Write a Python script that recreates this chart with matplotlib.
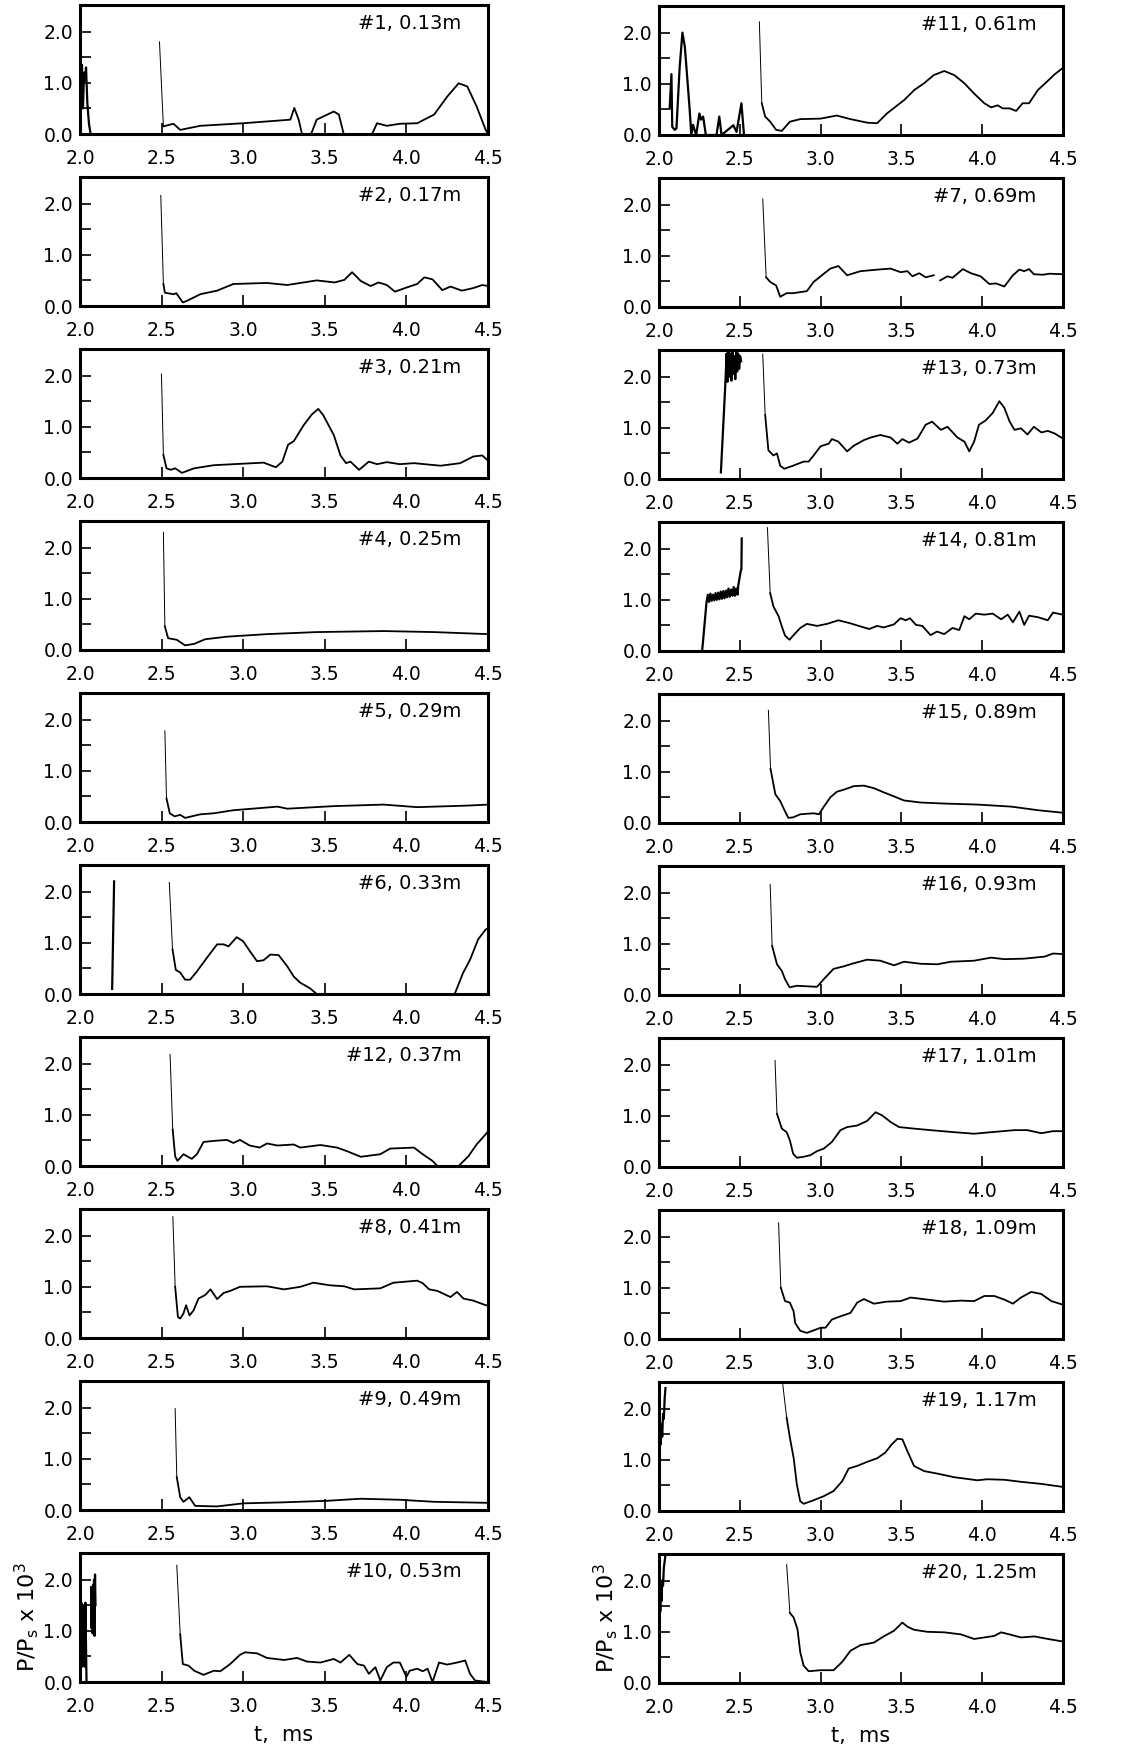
import matplotlib
matplotlib.use("Agg")
import matplotlib.pyplot as plt
import numpy as np

# ---- data (t in ms, P/Ps x 10^3) ----
labels_left = ["#1, 0.13m", "#2, 0.17m", "#3, 0.21m", "#4, 0.25m", "#5, 0.29m",
               "#6, 0.33m", "#12, 0.37m", "#8, 0.41m", "#9, 0.49m", "#10, 0.53m"]
labels_right = ["#11, 0.61m", "#7, 0.69m", "#13, 0.73m", "#14, 0.81m", "#15, 0.89m",
                "#16, 0.93m", "#17, 1.01m", "#18, 1.09m", "#19, 1.17m", "#20, 1.25m"]

# left column
t1 = [2.487, 2.511, 2.573, 2.614, 2.737, 3.0, 3.289, 3.313, 3.34, 3.36, 3.416, 3.45, 3.555, 3.586,
      3.616, 3.79, 3.82, 3.88, 3.96, 4.066, 4.17, 4.25, 4.32, 4.373, 4.43, 4.486, 4.5]
p1 = [1.80, 0.15, 0.20, 0.08, 0.16, 0.21, 0.28, 0.51, 0.28, 0.0, 0.0, 0.28, 0.44, 0.38,
      0.0, 0.0, 0.21, 0.16, 0.20, 0.21, 0.38, 0.73, 0.99, 0.93, 0.54, 0.08, 0.0]
pre1_t = [2.0, 2.005, 2.012, 2.018, 2.025, 2.03, 2.037, 2.045, 2.055, 2.065]
pre1_p = [0.0, 0.5, 1.35, 0.5, 1.2, 1.05, 1.3, 0.6, 0.2, 0.0]

t2 = [2.495, 2.511, 2.52, 2.573, 2.59, 2.63, 2.655, 2.737, 2.84, 2.94, 3.146, 3.27, 3.45, 3.56, 3.62,
      3.667, 3.72, 3.78, 3.83, 3.88, 3.93, 4.0, 4.066, 4.11, 4.16, 4.22, 4.27, 4.34, 4.41, 4.465, 4.5]
p2 = [2.16, 0.43, 0.26, 0.23, 0.25, 0.07, 0.10, 0.23, 0.30, 0.43, 0.45, 0.41, 0.50, 0.46, 0.51,
      0.66, 0.49, 0.39, 0.46, 0.41, 0.28, 0.36, 0.43, 0.56, 0.52, 0.31, 0.38, 0.30, 0.35, 0.41, 0.39]

t3 = [2.499, 2.511, 2.53, 2.556, 2.583, 2.624, 2.70, 2.82, 2.94, 3.125, 3.2, 3.24, 3.275, 3.31, 3.37,
      3.42, 3.46, 3.49, 3.555, 3.596, 3.63, 3.657, 3.71, 3.77, 3.82, 3.88, 3.96, 4.046, 4.21, 4.33,
      4.41, 4.465, 4.496]
p3 = [2.03, 0.45, 0.19, 0.16, 0.19, 0.10, 0.19, 0.25, 0.27, 0.30, 0.21, 0.32, 0.65, 0.72, 1.03,
      1.24, 1.35, 1.23, 0.84, 0.44, 0.29, 0.32, 0.16, 0.32, 0.27, 0.31, 0.27, 0.29, 0.24, 0.29,
      0.42, 0.44, 0.35]

t4 = [2.511, 2.52, 2.54, 2.593, 2.644, 2.70, 2.767, 2.90, 3.146, 3.45, 3.86, 4.17, 4.5]
p4 = [2.30, 0.46, 0.23, 0.20, 0.09, 0.12, 0.21, 0.26, 0.31, 0.35, 0.37, 0.35, 0.31]

t5 = [2.52, 2.53, 2.55, 2.58, 2.614, 2.644, 2.737, 2.82, 2.94, 3.21, 3.27, 3.555, 3.86, 4.066, 4.37, 4.5]
p5 = [1.78, 0.46, 0.17, 0.11, 0.14, 0.08, 0.15, 0.17, 0.23, 0.30, 0.26, 0.31, 0.34, 0.29, 0.32, 0.34]

t6 = [2.547, 2.567, 2.587, 2.614, 2.644, 2.675, 2.716, 2.776, 2.84, 2.88, 2.91, 2.96, 3.0, 3.04, 3.085,
      3.125, 3.166, 3.217, 3.27, 3.31, 3.35, 3.41, 3.45, 4.296, 4.347, 4.39, 4.44, 4.486, 4.5]
p6 = [2.18, 0.87, 0.47, 0.42, 0.28, 0.28, 0.44, 0.70, 0.97, 0.97, 0.93, 1.11, 1.03, 0.84, 0.64,
      0.66, 0.77, 0.76, 0.54, 0.34, 0.22, 0.11, 0.0, 0.0, 0.41, 0.67, 1.07, 1.26, 1.28]
pre6_t = [2.197, 2.209]
pre6_p = [0.1, 2.2]

t12 = [2.552, 2.568, 2.583, 2.597, 2.634, 2.685, 2.716, 2.757, 2.82, 2.90, 2.94, 2.98, 3.04, 3.10,
       3.146, 3.21, 3.31, 3.35, 3.473, 3.575, 3.636, 3.72, 3.84, 3.90, 4.046, 4.1, 4.16, 4.19, 4.32,
       4.38, 4.43, 4.486, 4.5]
p12 = [2.18, 0.71, 0.19, 0.10, 0.23, 0.14, 0.23, 0.47, 0.49, 0.51, 0.45, 0.51, 0.40, 0.36,
       0.44, 0.40, 0.42, 0.36, 0.41, 0.36, 0.29, 0.18, 0.23, 0.34, 0.36, 0.23, 0.10, 0.0, 0.0,
       0.19, 0.42, 0.62, 0.68]

t8 = [2.569, 2.583, 2.60, 2.614, 2.634, 2.65, 2.671, 2.696, 2.726, 2.767, 2.80, 2.84, 2.88, 2.92, 2.98,
      3.146, 3.25, 3.35, 3.43, 3.53, 3.62, 3.68, 3.84, 3.92, 4.066, 4.10, 4.14, 4.19, 4.27, 4.31,
      4.35, 4.41, 4.486, 4.5]
p8 = [2.37, 1.0, 0.41, 0.38, 0.48, 0.64, 0.44, 0.54, 0.77, 0.84, 0.95, 0.76, 0.88, 0.92, 1.0,
      1.01, 0.95, 1.0, 1.08, 1.03, 1.01, 0.95, 0.97, 1.08, 1.12, 1.07, 0.95, 0.92, 0.80, 0.90,
      0.77, 0.73, 0.64, 0.64]

t9 = [2.583, 2.593, 2.614, 2.634, 2.67, 2.706, 2.84, 3.0, 3.25, 3.515, 3.72, 3.96, 4.17, 4.5]
p9 = [1.98, 0.64, 0.25, 0.16, 0.25, 0.08, 0.07, 0.13, 0.15, 0.18, 0.22, 0.20, 0.16, 0.14]

t10 = [2.593, 2.614, 2.63, 2.665, 2.70, 2.757, 2.82, 2.86, 2.92, 2.98, 3.01, 3.085, 3.146, 3.25, 3.33,
       3.39, 3.473, 3.555, 3.596, 3.65, 3.70, 3.74, 3.77, 3.81, 3.84, 3.88, 3.92, 3.96, 4.0, 4.02,
       4.066, 4.10, 4.13, 4.16, 4.2, 4.25, 4.31, 4.36, 4.39, 4.42, 4.496]
p10 = [2.28, 0.93, 0.35, 0.32, 0.22, 0.14, 0.22, 0.21, 0.35, 0.53, 0.58, 0.56, 0.47, 0.43, 0.47,
       0.40, 0.38, 0.45, 0.38, 0.53, 0.35, 0.32, 0.16, 0.29, 0.03, 0.29, 0.38, 0.38, 0.10, 0.22,
       0.26, 0.21, 0.26, 0.0, 0.38, 0.34, 0.38, 0.42, 0.16, 0.03, 0.0]
pre10a_t = [2.003, 2.008, 2.012, 2.016, 2.02, 2.024, 2.028, 2.033, 2.04]
pre10a_p = [0.0, 1.55, 0.3, 1.5, 0.5, 1.0, 0.3, 1.55, 0.0]
pre10b_t = [2.068, 2.071, 2.074, 2.077, 2.080, 2.083, 2.086, 2.089, 2.092, 2.095]
pre10b_p = [1.85, 1.05, 1.8, 0.95, 1.9, 1.1, 2.0, 0.9, 2.1, 1.5]

# right column
t11 = [2.621, 2.636, 2.657, 2.688, 2.725, 2.76, 2.81, 2.874, 3.0, 3.10, 3.185, 3.29, 3.35, 3.41, 3.475,
       3.516, 3.58, 3.64, 3.70, 3.765, 3.827, 3.89, 3.95, 4.013, 4.055, 4.096, 4.127, 4.17, 4.21,
       4.25, 4.29, 4.345, 4.40, 4.45, 4.495]
p11 = [2.21, 0.62, 0.36, 0.26, 0.10, 0.08, 0.26, 0.31, 0.32, 0.38, 0.31, 0.24, 0.23, 0.42, 0.58,
       0.68, 0.88, 1.01, 1.17, 1.25, 1.17, 1.01, 0.81, 0.62, 0.54, 0.58, 0.52, 0.52, 0.47,
       0.62, 0.62, 0.88, 1.04, 1.19, 1.30]
pre11_t = [2.066, 2.077, 2.082, 2.097, 2.108, 2.128, 2.145, 2.16, 2.19, 2.2, 2.21, 2.23, 2.25, 2.26,
           2.273, 2.29, 2.356, 2.373, 2.387, 2.46, 2.48, 2.51, 2.526]
pre11_p = [0.52, 1.19, 0.16, 0.10, 0.13, 1.33, 2.0, 1.72, 0.49, 0.0, 0.2, 0.0, 0.42, 0.30,
           0.36, 0.0, 0.0, 0.36, 0.0, 0.19, 0.06, 0.62, 0.0]

t7a = [2.642, 2.663, 2.688, 2.725, 2.75, 2.79, 2.83, 2.915, 2.957, 3.02, 3.06, 3.11, 3.164, 3.247,
       3.35, 3.433, 3.495, 3.537, 3.568, 3.61, 3.65, 3.70]
p7a = [2.11, 0.58, 0.49, 0.42, 0.20, 0.27, 0.27, 0.31, 0.49, 0.65, 0.75, 0.80, 0.62, 0.70,
       0.73, 0.75, 0.68, 0.70, 0.60, 0.66, 0.58, 0.62]
t7b = [3.74, 3.785, 3.816, 3.88, 3.93, 3.99, 4.044, 4.086, 4.137, 4.19, 4.23, 4.26, 4.29, 4.32,
       4.375, 4.417, 4.5]
p7b = [0.52, 0.60, 0.57, 0.74, 0.66, 0.60, 0.45, 0.46, 0.40, 0.62, 0.73, 0.70, 0.74, 0.64,
       0.63, 0.65, 0.64]

t13 = [2.642, 2.657, 2.677, 2.708, 2.73, 2.75, 2.775, 2.83, 2.895, 2.926, 2.957, 3.0, 3.05, 3.07,
       3.11, 3.164, 3.205, 3.268, 3.31, 3.37, 3.433, 3.475, 3.506, 3.547, 3.6, 3.65, 3.69, 3.744,
       3.785, 3.847, 3.89, 3.92, 3.95, 3.98, 4.02, 4.065, 4.106, 4.137, 4.17, 4.2, 4.24, 4.28,
       4.32, 4.366, 4.406, 4.448, 4.5]
p13 = [2.44, 1.25, 0.56, 0.46, 0.50, 0.26, 0.20, 0.26, 0.34, 0.34, 0.46, 0.64, 0.69, 0.78,
       0.73, 0.54, 0.65, 0.76, 0.81, 0.86, 0.81, 0.69, 0.78, 0.71, 0.79, 1.06, 1.12, 0.96,
       1.02, 0.81, 0.73, 0.54, 0.73, 1.06, 1.14, 1.29, 1.52, 1.39, 1.12, 0.96, 0.99, 0.87,
       1.02, 0.91, 0.94, 0.89, 0.79]
pre13_t = [2.383, 2.412, 2.418, 2.424, 2.43, 2.436, 2.442, 2.448, 2.454, 2.46, 2.466, 2.472, 2.478,
           2.484, 2.49, 2.496, 2.502, 2.508]
pre13_p = [0.13, 1.95, 2.45, 1.9, 2.5, 2.0, 2.45, 1.92, 2.5, 2.05, 2.4, 1.95, 2.5, 2.1, 2.45,
           2.15, 2.4, 2.3]

t14 = [2.671, 2.688, 2.708, 2.74, 2.76, 2.78, 2.808, 2.83, 2.874, 2.915, 2.978, 3.04, 3.11, 3.185,
       3.247, 3.30, 3.35, 3.39, 3.454, 3.495, 3.527, 3.553, 3.59, 3.63, 3.68, 3.72, 3.765, 3.816,
       3.858, 3.89, 3.92, 3.96, 4.013, 4.065, 4.117, 4.158, 4.19, 4.23, 4.26, 4.29, 4.345, 4.406,
       4.438, 4.5]
p14 = [2.41, 1.13, 0.87, 0.68, 0.48, 0.30, 0.22, 0.30, 0.45, 0.53, 0.49, 0.53, 0.60, 0.54,
       0.48, 0.43, 0.49, 0.46, 0.52, 0.64, 0.60, 0.64, 0.51, 0.49, 0.31, 0.38, 0.33, 0.45,
       0.41, 0.68, 0.62, 0.73, 0.71, 0.73, 0.62, 0.71, 0.56, 0.77, 0.51, 0.69, 0.66, 0.60,
       0.75, 0.71]
pre14_t = [2.267, 2.294, 2.302, 2.310, 2.318, 2.326, 2.334, 2.342, 2.350, 2.358, 2.366, 2.374, 2.382,
           2.390, 2.398, 2.406, 2.414, 2.422, 2.430, 2.438, 2.446, 2.454, 2.462, 2.470, 2.478,
           2.486, 2.49, 2.505, 2.51, 2.512]
pre14_p = [0.0, 0.95, 1.10, 0.96, 1.12, 0.98, 1.10, 0.99, 1.13, 1.00, 1.14, 1.01, 1.16, 1.02,
           1.17, 1.03, 1.18, 1.05, 1.22, 1.06, 1.20, 1.08, 1.25, 1.08, 1.22, 1.10, 1.27, 1.55,
           1.6, 2.2]

t15 = [2.677, 2.69, 2.72, 2.75, 2.775, 2.80, 2.83, 2.874, 2.957, 2.99, 3.02, 3.06, 3.10, 3.143,
       3.205, 3.268, 3.33, 3.39, 3.454, 3.516, 3.62, 3.765, 3.97, 4.18, 4.345, 4.5]
p15 = [2.20, 1.06, 0.56, 0.43, 0.26, 0.10, 0.11, 0.17, 0.19, 0.17, 0.32, 0.50, 0.61, 0.65,
       0.72, 0.73, 0.68, 0.60, 0.52, 0.44, 0.40, 0.38, 0.36, 0.32, 0.25, 0.20]

t16 = [2.688, 2.70, 2.73, 2.76, 2.78, 2.808, 2.853, 2.915, 2.978, 3.02, 3.08, 3.143, 3.205, 3.288,
       3.37, 3.454, 3.516, 3.62, 3.723, 3.806, 3.95, 4.055, 4.137, 4.26, 4.386, 4.438, 4.5]
p16 = [2.16, 0.96, 0.60, 0.47, 0.31, 0.15, 0.18, 0.17, 0.16, 0.31, 0.51, 0.56, 0.62, 0.69,
       0.67, 0.58, 0.65, 0.61, 0.60, 0.65, 0.67, 0.73, 0.70, 0.71, 0.75, 0.81, 0.80]

t17 = [2.718, 2.73, 2.76, 2.79, 2.81, 2.83, 2.853, 2.895, 2.936, 2.978, 3.02, 3.07, 3.123, 3.164,
       3.226, 3.288, 3.34, 3.38, 3.433, 3.485, 3.578, 3.68, 3.827, 3.95, 4.055, 4.2, 4.28, 4.365,
       4.438, 4.5]
p17 = [2.08, 1.04, 0.75, 0.68, 0.52, 0.26, 0.18, 0.20, 0.23, 0.31, 0.36, 0.49, 0.72, 0.78,
       0.81, 0.90, 1.07, 1.01, 0.88, 0.78, 0.75, 0.72, 0.68, 0.65, 0.68, 0.72, 0.72, 0.66,
       0.70, 0.70]

t18 = [2.74, 2.754, 2.78, 2.81, 2.833, 2.843, 2.874, 2.915, 2.967, 3.0, 3.03, 3.07, 3.12, 3.185,
       3.226, 3.268, 3.33, 3.41, 3.495, 3.557, 3.66, 3.765, 3.868, 3.95, 4.013, 4.075, 4.137,
       4.19, 4.24, 4.303, 4.365, 4.428, 4.5]
p18 = [2.27, 1.0, 0.74, 0.71, 0.54, 0.31, 0.16, 0.12, 0.18, 0.22, 0.22, 0.38, 0.44, 0.51,
       0.71, 0.78, 0.69, 0.73, 0.74, 0.81, 0.77, 0.73, 0.75, 0.74, 0.84, 0.84, 0.77,
       0.69, 0.81, 0.92, 0.88, 0.74, 0.67]

t19 = [2.766, 2.79, 2.81, 2.833, 2.853, 2.874, 2.895, 2.957, 3.02, 3.08, 3.133, 3.174, 3.226, 3.288,
       3.35, 3.40, 3.44, 3.475, 3.506, 3.537, 3.578, 3.64, 3.723, 3.827, 3.97, 4.03, 4.137, 4.24,
       4.365, 4.5]
p19 = [2.47, 1.82, 1.43, 1.04, 0.52, 0.19, 0.14, 0.21, 0.29, 0.39, 0.58, 0.83, 0.88, 0.96,
       1.03, 1.14, 1.30, 1.41, 1.40, 1.17, 0.88, 0.78, 0.73, 0.66, 0.60, 0.62, 0.61, 0.57,
       0.53, 0.47]
pre19_t = [2.003, 2.006, 2.01, 2.015, 2.02, 2.025, 2.03, 2.035, 2.04]
pre19_p = [1.0, 1.5, 1.3, 1.7, 1.45, 1.9, 1.8, 2.2, 2.4]

t20 = [2.79, 2.81, 2.833, 2.857, 2.874, 2.895, 2.926, 3.0, 3.08, 3.133, 3.185, 3.247, 3.33, 3.39,
       3.454, 3.506, 3.537, 3.578, 3.66, 3.765, 3.868, 3.95, 4.013, 4.075, 4.117, 4.18, 4.24,
       4.324, 4.407, 4.5]
p20 = [2.31, 1.37, 1.28, 1.05, 0.60, 0.34, 0.23, 0.25, 0.25, 0.41, 0.63, 0.74, 0.79, 0.91,
       1.02, 1.18, 1.10, 1.04, 1.0, 0.99, 0.95, 0.86, 0.89, 0.92, 0.99, 0.94, 0.89,
       0.91, 0.86, 0.81]
pre20_t = [2.002, 2.005, 2.008, 2.012, 2.016, 2.02, 2.025, 2.03, 2.04]
pre20_p = [1.35, 1.6, 1.4, 1.8, 1.6, 2.0, 1.9, 2.25, 2.5]

left_traces = [[(t1, p1)], [(t2, p2)], [(t3, p3)], [(t4, p4)], [(t5, p5)],
               [(t6, p6)], [(t12, p12)], [(t8, p8)], [(t9, p9)], [(t10, p10)]]
left_pre = [[(pre1_t, pre1_p)], [], [], [], [], [(pre6_t, pre6_p)], [], [], [],
            [(pre10a_t, pre10a_p), (pre10b_t, pre10b_p)]]
right_traces = [[(t11, p11)], [(t7a, p7a), (t7b, p7b)], [(t13, p13)], [(t14, p14)], [(t15, p15)],
                [(t16, p16)], [(t17, p17)], [(t18, p18)], [(t19, p19)], [(t20, p20)]]
right_pre = [[(pre11_t, pre11_p)], [], [(pre13_t, pre13_p)], [(pre14_t, pre14_p)], [], [], [], [],
             [(pre19_t, pre19_p)], [(pre20_t, pre20_p)]]

plt.rcParams['font.family'] = ['DejaVu Sans']
FS = 13.5

W, H = 1125, 1745
fig = plt.figure(figsize=(W / 100, H / 100), dpi=100)


def style_axes(ax):
    ax.set_xlim(2.0, 4.5)
    ax.set_ylim(0.0, 2.52)
    ax.set_xticks(np.arange(2.0, 4.51, 0.5))
    ax.set_xticklabels(["%.1f" % v for v in np.arange(2.0, 4.51, 0.5)])
    ax.set_yticks([0.0, 1.0, 2.0])
    ax.set_yticklabels(["0.0", "1.0", "2.0"])
    ax.set_yticks([0.5, 1.5], minor=True)
    ax.tick_params(axis="both", which="both", direction="in", length=8, width=1.2,
                   top=False, right=False, labelsize=FS)
    ax.tick_params(axis="x", pad=11)
    ax.tick_params(axis="y", pad=5)
    for s in ax.spines.values():
        s.set_linewidth(2.2)


def draw_panel(ax, label, traces, pres):
    for (t, p) in pres:
        ax.plot(t, p, color="k", linewidth=1.6, clip_on=True)
    for k, (t, p) in enumerate(traces):
        if k == 0:
            # steep first drop drawn thin, like the faint plotter trace
            ax.plot(t[:2], p[:2], color="k", linewidth=0.7)
            ax.plot(t[1:], p[1:], color="k", linewidth=1.3)
        else:
            ax.plot(t, p, color="k", linewidth=1.3)
    ax.text(0.935, 0.93, label, transform=ax.transAxes, ha="right", va="top", fontsize=FS + 0.5)
    style_axes(ax)


ax_h = 129 / H
for i in range(10):
    top_l = 5 + 172 * i
    top_r = 6 + 172 * i
    axl = fig.add_axes([80 / W, 1 - (top_l + 129) / H, 408 / W, ax_h])
    draw_panel(axl, labels_left[i], left_traces[i], left_pre[i])
    axr = fig.add_axes([659 / W, 1 - (top_r + 129) / H, 404 / W, ax_h])
    draw_panel(axr, labels_right[i], right_traces[i], right_pre[i])
    if i == 9:
        for ax in (axl, axr):
            ax.set_ylabel(r"P/P$_\mathrm{s}$ x 10$^3$", fontsize=16, labelpad=2)
            ax.set_xlabel("t,  ms", fontsize=15, labelpad=6)

fig.savefig("out.png", dpi=100)
